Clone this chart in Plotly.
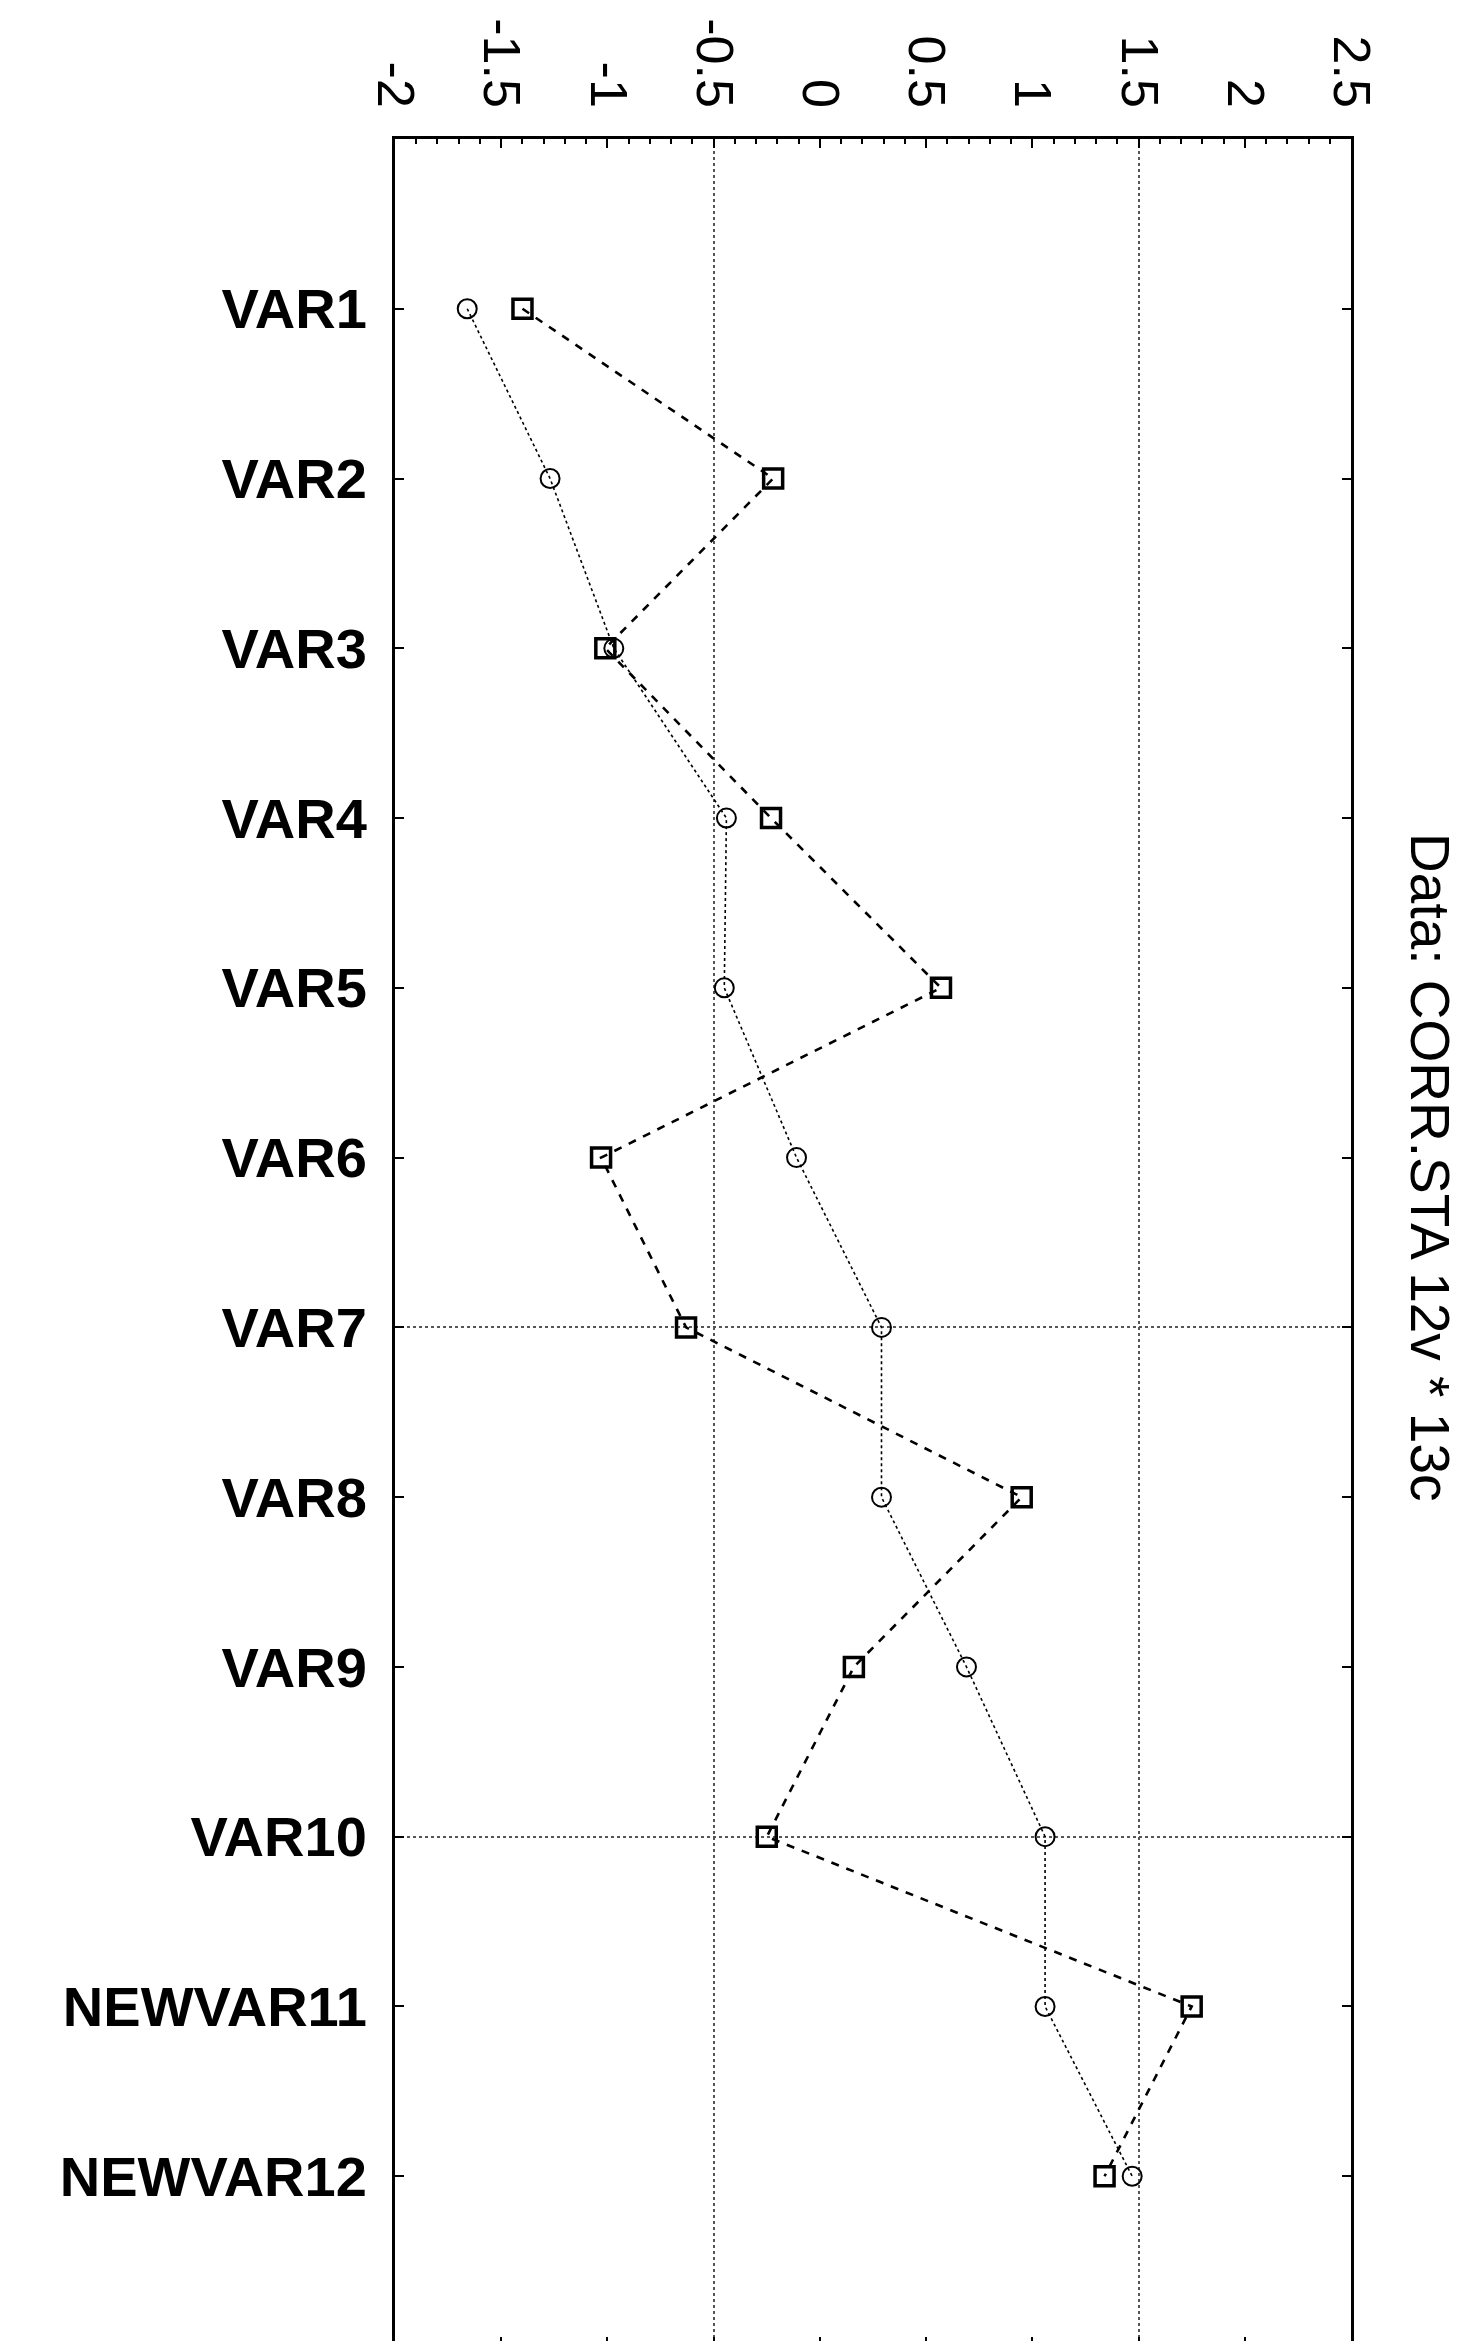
import plotly.graph_objects as go

# ---- data ----
categories = ["VAR1", "VAR2", "VAR3", "VAR4", "VAR5", "VAR6", "VAR7", "VAR8",
              "VAR9", "VAR10", "NEWVAR11", "NEWVAR12"]
circle_vals = [-1.66, -1.27, -0.97, -0.44, -0.45, -0.11, 0.29, 0.29, 0.69, 1.06, 1.06, 1.47]
square_vals = [-1.40, -0.22, -1.01, -0.23, 0.57, -1.03, -0.63, 0.95, 0.16, -0.25, 1.75, 1.34]
x_tick_vals = [-2, -1.5, -1, -0.5, 0, 0.5, 1, 1.5, 2, 2.5]
x_tick_text = ["-2", "-1.5", "-1", "-0.5", "0", "0.5", "1", "1.5", "2", "2.5"]
grid_x_vals = [-0.5, 1.5]
grid_categories = ["VAR7", "VAR10"]
title_text = "Data: CORR.STA 12v * 13c"

FONT = "Liberation Sans, Arial, sans-serif"
x_range = [-2, 2.5]
y_range = [len(categories), -1]

fig = go.Figure()

fig.add_trace(go.Scatter(
    x=circle_vals, y=list(range(len(categories))), mode="lines+markers",
    line=dict(color="black", width=1.6, dash="dot"),
    marker=dict(symbol="circle-open", size=19, color="black", line=dict(width=2)),
    showlegend=False, hoverinfo="skip"))

fig.add_trace(go.Scatter(
    x=square_vals, y=list(range(len(categories))), mode="lines+markers",
    line=dict(color="black", width=2.6, dash="8px,8px"),
    marker=dict(symbol="square-open", size=19, color="black", line=dict(width=3.5)),
    showlegend=False, hoverinfo="skip"))

# empty trace to host the overlay grid axes
fig.add_trace(go.Scatter(x=[], y=[], xaxis="x2", yaxis="y2", showlegend=False,
                         hoverinfo="skip"))

fig.update_layout(
    width=1464, height=2341,
    paper_bgcolor="white", plot_bgcolor="white",
    margin=dict(l=387, r=121, t=131, b=3, autoexpand=False),
    font=dict(family=FONT, color="black"),
    xaxis=dict(
        side="top", range=x_range, tickmode="array", automargin=False,
        tickvals=x_tick_vals, ticktext=x_tick_text, tickangle=90,
        tickfont=dict(size=52, family=FONT, color="black"),
        ticks="inside", ticklen=9, tickwidth=2, tickcolor="black",
        ticklabelstandoff=10,
        minor=dict(tickmode="linear", tick0=-2, dtick=0.1, ticks="inside",
                   ticklen=5, tickwidth=1.5, tickcolor="black", showgrid=False),
        showline=True, linecolor="black", linewidth=3, mirror="allticks",
        showgrid=False, zeroline=False,
    ),
    yaxis=dict(
        range=y_range, tickmode="array", automargin=False,
        tickvals=list(range(len(categories))), ticktext=categories,
        tickfont=dict(size=56, family=FONT, color="black", weight="bold"),
        ticks="inside", ticklen=9, tickwidth=2, tickcolor="black",
        ticklabelstandoff=14,
        showline=True, linecolor="black", linewidth=3, mirror="allticks",
        showgrid=False, zeroline=False,
    ),
    xaxis2=dict(
        overlaying="x", anchor="y2", side="top", range=x_range, automargin=False,
        tickmode="array", tickvals=grid_x_vals, showticklabels=False,
        ticks="", showline=False, zeroline=False,
        showgrid=True, gridcolor="#555555", gridwidth=1.5, griddash="dot",
    ),
    yaxis2=dict(
        overlaying="y", anchor="x2", range=y_range, automargin=False,
        tickmode="array", tickvals=[categories.index(c) for c in grid_categories],
        showticklabels=False, ticks="", showline=False, zeroline=False,
        showgrid=True, gridcolor="#555555", gridwidth=1.5, griddash="dot",
    ),
    annotations=[dict(
        text=title_text, textangle=90, xref="paper", yref="paper",
        x=1.082, y=0.534, xanchor="center", yanchor="middle", showarrow=False,
        font=dict(size=55, family=FONT, color="black"))],
)

fig.write_html("out.html")
